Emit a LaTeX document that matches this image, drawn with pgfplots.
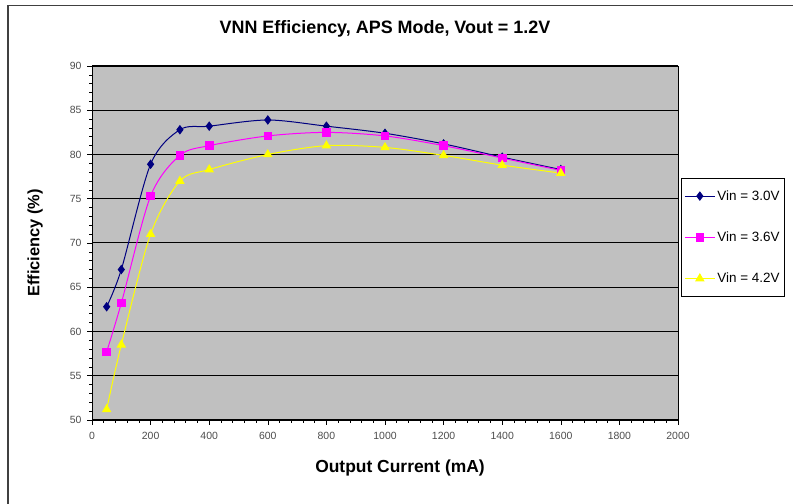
\documentclass[border=0pt]{standalone}
\usepackage{pgfplots}
\pgfplotsset{compat=1.18}
\usepackage{fontspec}
\setmainfont{Liberation Sans}
\definecolor{plotgray}{HTML}{C0C0C0}
\definecolor{navyc}{HTML}{000080}
\definecolor{magc}{HTML}{FF00FF}
\definecolor{yelc}{HTML}{FFFF00}
\begin{document}
\begin{tikzpicture}
\useasboundingbox (0bp,0bp) rectangle (793bp,504bp);
\draw[black!75, line width=1.2bp] (8bp,0bp) -- (8bp,498.5bp) -- (793bp,498.5bp);
\begin{axis}[
  at={(92bp,84bp)}, anchor=south west,
  scale only axis, width=586bp, height=354bp,
  xmin=0, xmax=2000, ymin=50, ymax=90,
  xtick={0,200,...,2000}, ytick={50,55,...,90},
  minor x tick num=4, minor y tick num=4,
  tick align=outside, tick pos=left,
  major tick length=5bp, minor tick length=3bp,
  axis background/.style={fill=plotgray},
  axis line style={black, line width=0.8bp},
  ymajorgrids, grid style={black, line width=1bp},
  every tick/.style={black, line width=0.6bp},
  tick label style={font=\fontsize{10.5}{12}\selectfont, text=black!70},
  /pgf/number format/assume math mode=true,
  /pgf/number format/set thousands separator={},
  xticklabel style={yshift=-4bp},
  yticklabel style={xshift=-2bp},
  xlabel={\bfseries Output Current (mA)},
  ylabel={\bfseries Efficiency (\%)},
  xlabel style={font=\fontsize{17.5}{20}\selectfont, at={(axis description cs:0.5256,-0.1356)}, anchor=center},
  ylabel style={font=\fontsize{16.5}{19}\selectfont, at={(axis description cs:-0.097,0.5)}, anchor=center},
  title={\bfseries VNN Efficiency, APS Mode, Vout = 1.2V},
  title style={font=\fontsize{18}{21}\selectfont, at={(axis description cs:0.5,1.087)}, anchor=center},
  legend style={at={(axis description cs:1.005,0.516)}, anchor=west, draw=black, line width=0.8bp, fill=white,
    font=\fontsize{13.5}{15}\selectfont, row sep=26bp, inner xsep=3bp, inner ysep=10bp,
    legend cell align=left},
  legend image code/.code={\draw[#1] (0bp,0bp) -- (30bp,0bp); \draw[#1, only marks] plot coordinates {(15bp,0bp)};},
]
\addplot[navyc, line width=1bp, smooth, tension=0.5, mark=diamond*, mark size=4bp, mark options={fill=navyc, draw=navyc, solid}] coordinates {
(50,62.8) (100,67.0) (200,78.9) (300,82.8) (400,83.2) (600,83.9) (800,83.2) (1000,82.4) (1200,81.2) (1400,79.7) (1600,78.3)};
\addlegendentry{Vin = 3.0V}
\addplot[magc, line width=1bp, smooth, tension=0.5, mark=square*, mark size=3.8bp, mark options={fill=magc, draw=magc, solid}] coordinates {
(50,57.7) (100,63.2) (200,75.3) (300,79.9) (400,81.0) (600,82.1) (800,82.5) (1000,82.1) (1200,81.0) (1400,79.6) (1600,78.2)};
\addlegendentry{Vin = 3.6V}
\addplot[yelc, line width=1bp, smooth, tension=0.5, mark=triangle*, mark size=4.5bp, mark options={fill=yelc, draw=yelc, solid}] coordinates {
(50,51.2) (100,58.5) (200,71.0) (300,77.0) (400,78.3) (600,80.0) (800,81.0) (1000,80.8) (1200,79.9) (1400,78.8) (1600,77.9)};
\addlegendentry{Vin = 4.2V}
\end{axis}
\end{tikzpicture}
\end{document}
